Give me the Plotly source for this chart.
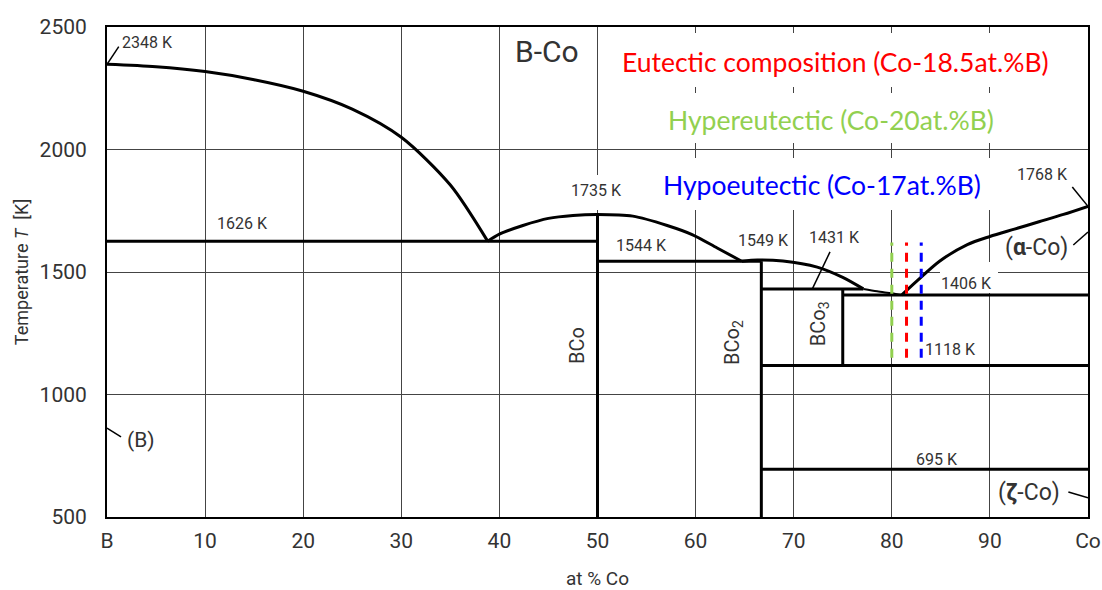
import plotly.graph_objects as go

# ---- B-Co phase diagram data (x = at.% Co, T in K) ----
liq_b_x = [0, 5, 10, 15, 20, 25, 30, 35, 38.8]
liq_b_t = [2348, 2338, 2318, 2285, 2238, 2165, 2050, 1855, 1626]

bco_dome_x = [38.8, 40, 42.4, 45, 47.5, 50, 53.6, 57.1, 59.7, 62.2, 64.7]
bco_dome_t = [1626, 1655, 1690, 1719, 1731, 1735, 1728, 1690, 1652, 1598, 1544]

bco2_liq_x = [64.7, 66.3, 68.9, 72.4, 75, 77.1]
bco2_liq_t = [1544, 1549, 1545, 1520, 1478, 1431]

bco3_liq_x = [77.1, 78.5, 80, 81]
bco3_liq_t = [1431, 1421, 1413, 1406]

co_liq_x = [81, 82.6, 84.9, 87.7, 90, 92.5, 95, 97.5, 100]
co_liq_t = [1406, 1465, 1545, 1612, 1645, 1675, 1705, 1735, 1768]

# invariant lines: (x_start, x_end, T)
invariants = [
    (0, 50, 1626),
    (50, 66.7, 1544),
    (66.7, 77.1, 1431),
    (75, 100, 1406),
    (66.7, 100, 1118),
    (66.7, 100, 695),
]
# compound lines: (x, T_top, T_bottom)
compounds = [
    (50, 1735, 500),
    (66.7, 1544, 500),
    (75, 1431, 1118),
]

# alloy compositions (at.% B) and colours
alloy_b = [20, 18.5, 17]
alloy_colors = ["#92D050", "#FF0000", "#0000FF"]
alloy_t_range = [1150, 1620]

x_ticks = [0, 10, 20, 30, 40, 50, 60, 70, 80, 90, 100]
x_labels = ["B", "10", "20", "30", "40", "50", "60", "70", "80", "90", "Co"]
y_ticks = [500, 1000, 1500, 2000, 2500]

NARROW = "Roboto, sans-serif"
TXT = "#333333"

fig = go.Figure()

thick = dict(color="black", width=3)
for xs, ts, w in [(liq_b_x, liq_b_t, 3), (bco_dome_x, bco_dome_t, 3),
                  (bco2_liq_x, bco2_liq_t, 3), (bco3_liq_x, bco3_liq_t, 2),
                  (co_liq_x, co_liq_t, 3)]:
    fig.add_trace(go.Scatter(x=xs, y=ts, mode="lines",
                             line=dict(color="black", width=w, shape="spline", smoothing=0.8),
                             hoverinfo="skip", showlegend=False))

for x0, x1, t in invariants:
    fig.add_trace(go.Scatter(x=[x0, x1], y=[t, t], mode="lines", line=thick, hoverinfo="skip", showlegend=False))
for x, t0, t1 in compounds:
    fig.add_trace(go.Scatter(x=[x, x], y=[t0, t1], mode="lines", line=thick, hoverinfo="skip", showlegend=False))

for b, c in zip(alloy_b, alloy_colors):
    xc = 100 - b
    fig.add_trace(go.Scatter(x=[xc, xc], y=alloy_t_range, mode="lines",
                             line=dict(color=c, width=3, dash="9px,7px"), hoverinfo="skip", showlegend=False))


def px_x(px):
    return (px - 107) / 9.81


def px_y(py):
    return 500 + (517 - py) / 0.245


# white panels behind the text blocks, hiding grid lines
masks = [(605, 1060, 33, 87), (651, 1002, 93, 143), (645, 1000, 158, 210),
         (585, 612, 175, 210), (940, 998, 262, 293)]
for l, r, t, b in masks:
    fig.add_shape(type="rect", xref="x", yref="y", x0=px_x(l), x1=px_x(r), y0=px_y(b), y1=px_y(t),
                  fillcolor="white", line=dict(width=0), layer="between")

# leader lines
leaders = [((0, 2348), (1.2, 2420)), ((71.9, 1431), (73.7, 1582)), ((98.4, 1847), (100, 1768)),
           ((98.5, 1610), (100, 1663)), ((98, 602), (100, 578)), ((0, 863), (1.43, 827))]
for (xa, ya), (xb, yb) in leaders:
    fig.add_shape(type="line", xref="x", yref="y", x0=xa, y0=ya, x1=xb, y1=yb,
                  line=dict(color="black", width=1.5), layer="above")

labels = [
    ("2348 K", 4.1, 2435, 16, 0), ("1626 K", 13.8, 1700, 16, 0), ("1735 K", 49.85, 1831, 16, 0),
    ("1544 K", 54.5, 1610, 16, 0), ("1549 K", 66.9, 1627, 16, 0), ("1431 K", 74.2, 1639, 16, 0),
    ("1406 K", 87.6, 1455, 16, 0), ("1118 K", 86.0, 1182, 16, 0), ("695 K", 84.6, 733, 16, 0),
    ("1768 K", 95.4, 1900, 16, 0), ("(B)", 3.47, 814, 21, 0),
    ("(<b>α</b>-Co)", 94.7, 1598, 23, 0), ("(<b>ζ</b>-Co)", 94.0, 598, 23, 0),
    ("B-Co", 44.85, 2398, 30, 0),
    ("BCo", 47.9, 1202, 20, -90), ("BCo<sub>2</sub>", 63.8, 1214, 20, -90), ("BCo<sub>3</sub>", 72.6, 1288, 20, -90),
]
for text, x, y, size, ang in labels:
    fig.add_annotation(x=x, y=y, text=text, showarrow=False, textangle=ang,
                       font=dict(family=NARROW, size=size, color=TXT))

notes = [
    ("Eutectic composition (Co-18.5at.%B)", 74.3, 2357, "#FF0000"),
    ("Hypereutectic (Co-20at.%B)", 73.8, 2120, "#92D050"),
    ("Hypoeutectic (Co-17at.%B)", 72.9, 1855, "#0000FF"),
]
for text, x, y, c in notes:
    fig.add_annotation(x=x, y=y, text=text, showarrow=False,
                       font=dict(family="Lato, Open Sans, sans-serif", size=26.5, color=c))

fig.update_layout(
    width=1102, height=590, margin=dict(l=107, r=14, t=27, b=73, autoexpand=False),
    paper_bgcolor="white", plot_bgcolor="white",
    font=dict(family=NARROW, color=TXT),
    xaxis=dict(range=[0, 100], tickvals=x_ticks, ticktext=x_labels, showgrid=True, gridcolor="#444444", gridwidth=1,
               showline=True, mirror=True, linecolor="black", linewidth=2, ticks="", zeroline=False,
               ticklabeloverflow="allow", automargin=False, ticklabelstandoff=4,
               tickfont=dict(family=NARROW, size=21, color=TXT),
               title=dict(text="at % Co", font=dict(family=NARROW, size=19, color=TXT), standoff=24)),
    yaxis=dict(range=[500, 2500], tickvals=y_ticks, showgrid=True, gridcolor="#444444", gridwidth=1,
               showline=True, mirror=True, linecolor="black", linewidth=2, ticks="", zeroline=False,
               ticklabeloverflow="allow", automargin=False,
               tickfont=dict(family=NARROW, size=21, color=TXT), ticklabelstandoff=14,
               title=dict(text="Temperature <i>T</i>  [K]", font=dict(family=NARROW, size=18, color=TXT), standoff=6)),
)

fig.write_html("out.html")
